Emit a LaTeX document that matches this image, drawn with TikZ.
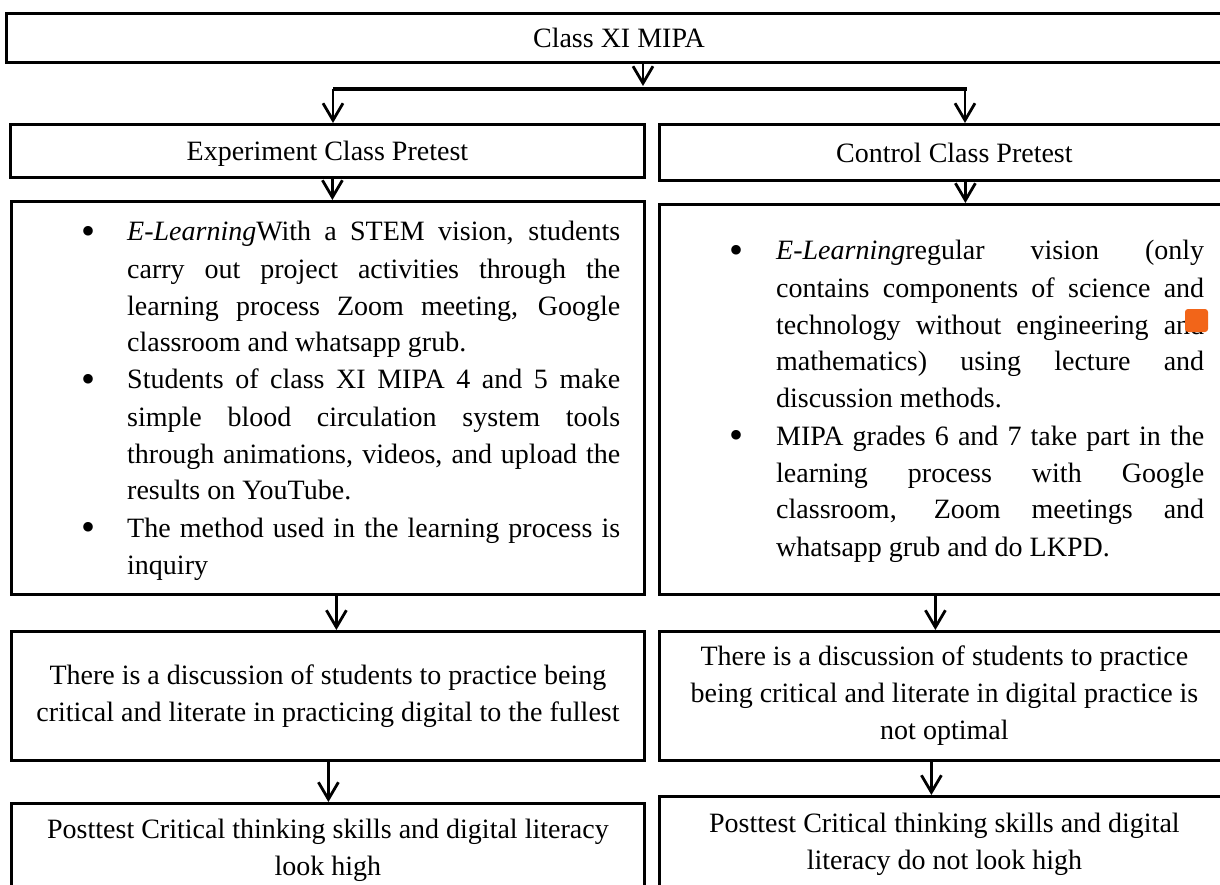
\documentclass[tikz,border=0pt]{standalone}
\usepackage{fontspec}
\setmainfont{Liberation Serif}
\usetikzlibrary{arrows.meta}
\definecolor{notemark}{HTML}{F26519}

% justified bullet paragraph with a hanging indent
\newcommand{\listdot}{\raisebox{-3pt}{\fontsize{40}{37}\selectfont\textbullet}}
\newcommand{\bulletpar}[2]{\hangindent=#1\hangafter=1\noindent\makebox[#1][l]{\hspace{1pt}\listdot}#2\par}

\begin{document}
\begin{tikzpicture}[x=1pt,y=-1pt,
  box/.style={draw, line width=2.8pt, inner sep=0pt, anchor=north west, align=center,
    font=\fontsize{28}{37}\selectfont},
  onerow/.style={text depth=0pt},
  flow/.style={line width=2.8pt, -{Straight Barb[length=17pt,width=20pt,line width=2.8pt]}},
  bar/.style={line width=4pt},
  bodytext/.style={anchor=base west, inner sep=0pt, font=\fontsize{28}{37}\selectfont}
]
\useasboundingbox (0,0) rectangle (1220,885);
\fill[white] (0,0) rectangle (1220,885);
\clip (0,0) rectangle (1220,885);

% boxes
\node[box, onerow, minimum width=1225pt, minimum height=49pt] (top) at (5,12) {Class XI MIPA};

\node[box, onerow, minimum width=634pt, minimum height=53pt] (pre1) at (9,123) {Experiment Class Pretest};
\node[box, onerow, minimum width=590pt, minimum height=56pt] (pre2) at (658,123) {Control Class Pretest};

\node[box, minimum width=633pt, minimum height=393pt] (cont1) at (10,200) {};
\node[box, minimum width=580pt, minimum height=390pt] (cont2) at (658,203) {};

\node[box, minimum width=633pt, minimum height=129pt] (disc1) at (10,630)
  {There is a discussion of students to practice being\\critical and literate in practicing digital to the fullest};
\node[box, minimum width=570pt, minimum height=129pt] (disc2) at (658,630)
  {There is a discussion of students to practice\\being critical and literate in digital practice is\\not optimal};

\node[box, minimum width=633pt, minimum height=93pt] (post1) at (10,802)
  {Posttest Critical thinking skills and digital literacy\\look high};
\node[box, minimum width=570pt, minimum height=95pt] (post2) at (658,795)
  {Posttest Critical thinking skills and digital\\literacy do not look high};

% bullet lists
\node[bodytext] (list1) at (80,241) {\parbox[t]{540pt}{%
  \tolerance=10000\hyphenpenalty=10000\parindent=0pt
  \bulletpar{47pt}{\textit{E-Learning}With a STEM vision, students\linebreak carry out project activities through the\linebreak learning process Zoom meeting, Google\linebreak classroom and whatsapp grub.}
  \bulletpar{47pt}{Students of class XI MIPA 4 and 5 make\linebreak simple blood circulation system tools\linebreak through animations, videos, and upload the\linebreak results on YouTube.}
  \bulletpar{47pt}{The method used in the learning process is\linebreak inquiry}}};

\node[bodytext] (list2) at (728,260) {\parbox[t]{476pt}{%
  \tolerance=10000\hyphenpenalty=10000\parindent=0pt
  \bulletpar{48pt}{\textit{E-Learning}regular vision (only\linebreak contains components of science and\linebreak technology without engineering and\linebreak mathematics) using lecture and\linebreak discussion methods.}
  \bulletpar{48pt}{MIPA grades 6 and 7 take part in the\linebreak learning process with Google\linebreak classroom, Zoom meetings and\linebreak whatsapp grub and do LKPD.}}};

% orange marker over the right list
\fill[notemark, rounded corners=3pt] (1185,309) rectangle (1208,332);

% split bar under the top box
\coordinate (hub) at (643,86);
\coordinate (barL) at (333,89);
\coordinate (barR) at (967,89);
\draw[bar] (barL) -- (barR);
\draw[flow] (hub |- top.south) -- (hub);
\draw[flow] (barL) -- (barL |- pre1.north);
\draw[flow] ([xshift=-2pt]barR) -- ([xshift=-2pt]barR |- pre2.north);

% vertical connectors
\draw[flow] ([xshift=5pt]pre1.south) -- ([xshift=5pt]pre1.south |- cont1.north);
\draw[flow] ([xshift=11pt]pre2.south) -- ([xshift=11pt]pre2.south |- cont2.north);
\draw[flow] ([xshift=8.5pt]cont1.south) -- ([xshift=8.5pt]cont1.south |- disc1.north);
\draw[flow] ([xshift=-14pt]cont2.south) -- ([xshift=-14pt]cont2.south |- disc2.north);
\draw[flow] ([xshift=0.5pt]disc1.south) -- ([xshift=0.5pt]disc1.south |- post1.north);
\draw[flow] ([xshift=-13pt]disc2.south) -- ([xshift=-13pt]disc2.south |- post2.north);
\end{tikzpicture}
\end{document}
